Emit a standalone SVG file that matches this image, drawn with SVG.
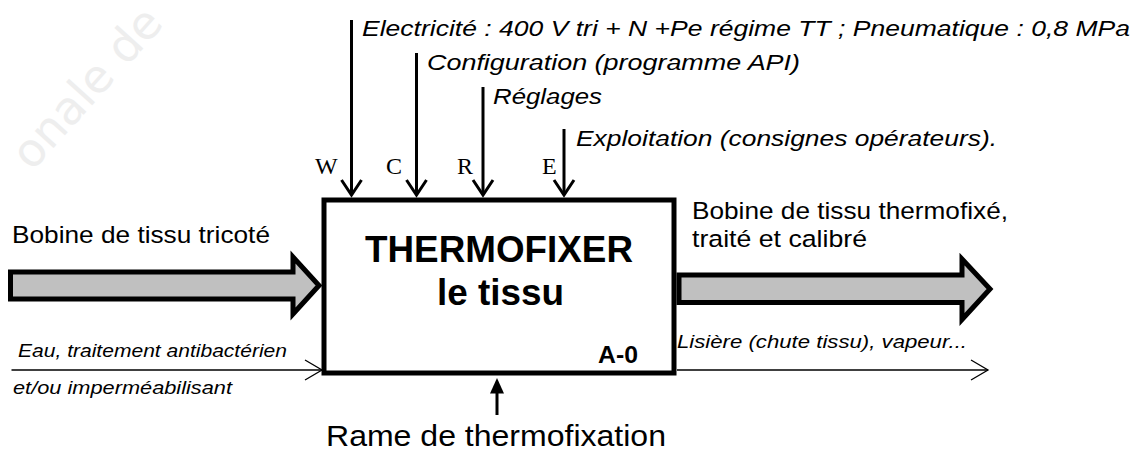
<svg xmlns="http://www.w3.org/2000/svg" width="1135" height="453" viewBox="0 0 1135 453">
  <style>
    .it { font-family: "Liberation Sans", Arial, sans-serif; font-style: italic; fill: #000; }
    .rg { font-family: "Liberation Sans", Arial, sans-serif; fill: #000; }
    .bd { font-family: "Liberation Sans", Arial, sans-serif; font-weight: bold; fill: #000; }
    .sf { font-family: "Liberation Serif", "Times New Roman", serif; font-size: 24px; fill: #000; }
    .ctl { stroke: #000; stroke-width: 3; fill: none; }
    .thin { stroke: #000; stroke-width: 1.3; fill: none; }
    .big { fill: #c0c0c0; stroke: #000; stroke-width: 5; stroke-linejoin: miter; }
    .wm { font-family: "DejaVu Sans", "Noto Sans", sans-serif; font-size: 46px; fill: #eeeeee; }
  </style>
  <defs>
    <marker id="vthick" viewBox="-20 -13 24 26" refX="0" refY="0" markerWidth="24" markerHeight="26" markerUnits="userSpaceOnUse" orient="auto">
      <path d="M-15,-10 L0,0 L-15,10" fill="none" stroke="#000" stroke-width="3"/>
    </marker>
    <marker id="vthin" viewBox="-20 -13 24 26" refX="0" refY="0" markerWidth="24" markerHeight="26" markerUnits="userSpaceOnUse" orient="auto">
      <path d="M-17,-10 L0,0 L-17,10" fill="none" stroke="#000" stroke-width="1.3"/>
    </marker>
  </defs>

  <rect width="1135" height="453" fill="#fff"/>

  <g id="watermark">
    <text class="wm" x="0" y="0" transform="translate(32,172) rotate(-48)">onale de</text>
  </g>

  <g id="connectors">
    <!-- controls -->
    <line class="ctl" x1="351.5" y1="20" x2="351.5" y2="195" marker-end="url(#vthick)"/>
    <line class="ctl" x1="416.5" y1="53" x2="416.5" y2="195" marker-end="url(#vthick)"/>
    <line class="ctl" x1="483" y1="87" x2="483" y2="195" marker-end="url(#vthick)"/>
    <line class="ctl" x1="564" y1="129" x2="564" y2="195" marker-end="url(#vthick)"/>
    <!-- main input -->
    <polygon class="big" points="10.5,272 293,272 293,257 319,285.5 293,314 293,299 10.5,299"/>
    <!-- main output -->
    <polygon class="big" points="679,275 962,275 962,259 990,289 962,319.5 962,302.5 679,302.5"/>
    <!-- secondary input -->
    <line class="thin" x1="11.5" y1="370" x2="322" y2="370" marker-end="url(#vthin)"/>
    <!-- secondary output -->
    <line class="thin" x1="677" y1="370" x2="988" y2="370" marker-end="url(#vthin)"/>
    <!-- mechanism -->
    <line x1="497" y1="415" x2="497" y2="390" stroke="#000" stroke-width="3"/>
    <polygon points="490,393.5 504,393.5 497,378" fill="#000"/>
  </g>

  <g id="node-A0">
    <rect x="324" y="200" width="350" height="173" fill="#fff" stroke="#000" stroke-width="5"/>
    <text class="bd" x="365" y="262" font-size="36" textLength="268" lengthAdjust="spacingAndGlyphs">THERMOFIXER</text>
    <text class="bd" x="437" y="305" font-size="36" textLength="127" lengthAdjust="spacingAndGlyphs">le tissu</text>
    <text class="bd" x="598" y="363" font-size="23" textLength="40" lengthAdjust="spacingAndGlyphs">A-0</text>
  </g>

  <g id="labels">
    <text class="it" x="362" y="36" font-size="22" textLength="768" lengthAdjust="spacingAndGlyphs">Electricité : 400 V tri + N +Pe régime TT ; Pneumatique : 0,8 MPa</text>
    <text class="it" x="427" y="70" font-size="22" textLength="373" lengthAdjust="spacingAndGlyphs">Configuration (programme API)</text>
    <text class="it" x="493" y="104" font-size="22" textLength="109" lengthAdjust="spacingAndGlyphs">Réglages</text>
    <text class="it" x="576" y="146" font-size="22" textLength="421" lengthAdjust="spacingAndGlyphs">Exploitation (consignes opérateurs).</text>
    <text class="sf" x="315" y="174">W</text>
    <text class="sf" x="386" y="174">C</text>
    <text class="sf" x="457" y="174">R</text>
    <text class="sf" x="542" y="174">E</text>
    <text class="rg" x="12" y="243" font-size="24.5" textLength="258" lengthAdjust="spacingAndGlyphs">Bobine de tissu tricoté</text>
    <text class="rg" x="692" y="219" font-size="24.5" textLength="316" lengthAdjust="spacingAndGlyphs">Bobine de tissu thermofixé,</text>
    <text class="rg" x="692" y="247" font-size="24.5" textLength="175" lengthAdjust="spacingAndGlyphs">traité et calibré</text>
    <text class="it" x="18" y="357" font-size="18" textLength="269" lengthAdjust="spacingAndGlyphs">Eau, traitement antibactérien</text>
    <text class="it" x="13" y="394" font-size="18" textLength="219" lengthAdjust="spacingAndGlyphs">et/ou imperméabilisant</text>
    <text class="it" x="677" y="348" font-size="18" textLength="290" lengthAdjust="spacingAndGlyphs">Lisière (chute tissu), vapeur...</text>
    <text class="rg" x="326" y="446" font-size="29" textLength="340" lengthAdjust="spacingAndGlyphs">Rame de thermofixation</text>
  </g>
</svg>
